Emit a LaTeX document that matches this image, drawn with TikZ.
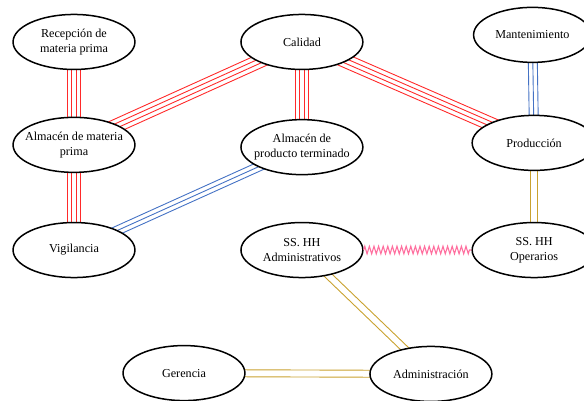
\documentclass[tikz,border=0pt]{standalone}
\usepackage{fontspec}
\setmainfont{Liberation Serif}
\usetikzlibrary{shapes.geometric, calc, backgrounds, decorations.pathmorphing}
\definecolor{cred}{HTML}{FF2A2A}
\definecolor{cblue}{HTML}{4472C4}
\definecolor{cgold}{HTML}{C9A230}
\definecolor{cpink}{HTML}{FF6F9F}
\tikzset{
  area/.style={ellipse, draw=black, fill=white, line width=1.5bp, minimum width=4.3cm, minimum height=1.94cm, inner xsep=-20bp, inner ysep=-6bp, align=center, font=\fontsize{12.2}{15}\selectfont},
  linkA/.style={draw=cred, line width=0.9bp},
  linkE/.style={draw=cblue, line width=0.9bp},
  linkI/.style={draw=cgold, line width=0.9bp},
  linkX/.style={draw=cpink, line width=1.1bp, decorate, decoration={zigzag, segment length=4.6bp, amplitude=3.8bp}},
}

\begin{document}
\begin{tikzpicture}
  \useasboundingbox (0,0) rectangle (20.6,-14.14);
  \node[area] (rec) at (2.61,-1.48) {Recepción de\\materia prima};
  \node[area] (cal) at (10.65,-1.48) {Calidad};
  \node[area, minimum width=4.15cm] (man) at (18.78,-1.23) {Mantenimiento};
  \node[area] (amp) at (2.61,-5.11) {Almacén de materia\\prima};
  \node[area] (apt) at (10.65,-5.19) {Almacén de\\producto terminado};
  \node[area, minimum width=4.37cm] (pro) at (18.84,-5.04) {Producción};
  \node[area] (vig) at (2.61,-8.82) {Vigilancia};
  \node[area] (ssa) at (10.65,-8.82) {SS. HH\\Administrativos};
  \node[area, minimum width=4.37cm] (sso) at (18.84,-8.82) {SS. HH\\Operarios};
  \node[area] (ger) at (6.49,-13.16) {Gerencia};
  \node[area] (adm) at (15.20,-13.19) {Administración};
  \begin{scope}[on background layer]
    % four red lines
    \foreach \a/\b in {rec/amp, amp/cal, cal/apt, cal/pro, amp/vig}
      \foreach \k in {-6.75bp,-2.25bp,2.25bp,6.75bp}
        \draw[linkA] ($(\a)!\k!90:(\b)$) -- ($(\b)!\k!-90:(\a)$);
    % three blue lines
    \foreach \a/\b in {man/pro, apt/vig}
      \foreach \k in {-4.5bp,0bp,4.5bp}
        \draw[linkE] ($(\a)!\k!90:(\b)$) -- ($(\b)!\k!-90:(\a)$);
    % two gold lines
    \foreach \a/\b in {pro/sso, ssa/adm, ger/adm}
      \foreach \k in {-3.5bp,3.5bp}
        \draw[linkI] ($(\a)!\k!90:(\b)$) -- ($(\b)!\k!-90:(\a)$);
  \end{scope}
  \draw[linkX] (ssa) -- (sso);
\end{tikzpicture}
\end{document}
